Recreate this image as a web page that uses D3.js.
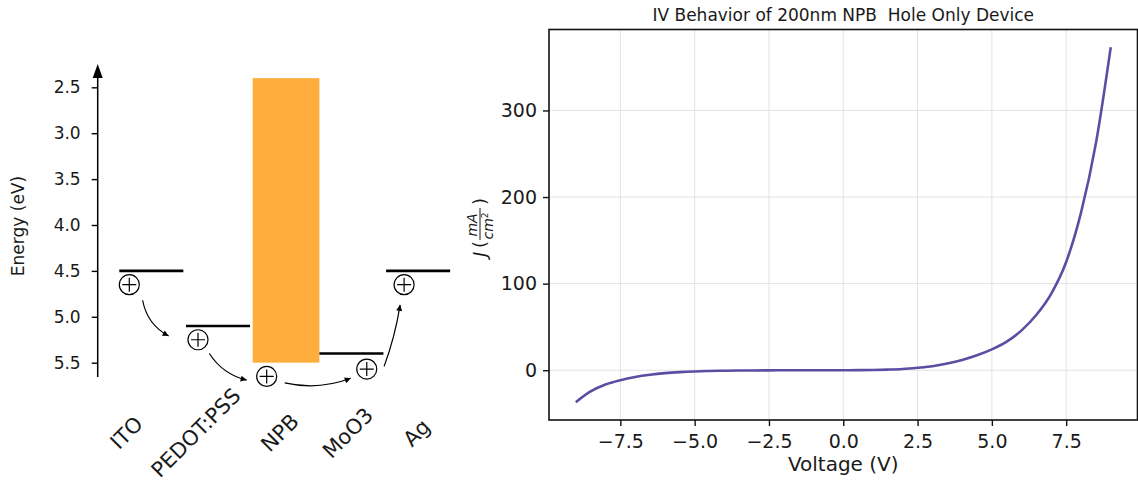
<!DOCTYPE html>
<html>
<head>
<meta charset="utf-8">
<script src="https://cdn.jsdelivr.net/npm/d3@7"></script>
<style>
  body { margin: 0; background: #fff; }
  text { font-family: "DejaVu Sans", sans-serif; fill: #1a1a1a; }
</style>
</head>
<body>
<svg id="chart" width="1138" height="481"></svg>
<script>
// ---------- energy diagram data
const layerNames = ["ITO", "PEDOT:PSS", "NPB", "MoO3", "Ag"];
const labelX = [0.11, 1.15, 2.41, 3.43, 4.46];
const levelPos = [0, 1, 3, 4];          // ITO, PEDOT:PSS, MoO3, Ag
const levelE = [4.5, 5.1, 5.4, 4.5];
const bandPos = 2;                      // NPB
const bandLumo = 2.4, bandHomo = 5.5;
const energyTicks = [2.5, 3.0, 3.5, 4.0, 4.5, 5.0, 5.5];
const holeX = [0.15, 1.18, 2.21, 3.71, 4.27];
const holeE = [4.65, 5.25, 5.65, 5.57, 4.65];
const arrowFrom = [[0.35, 4.82], [1.35, 5.40], [2.48, 5.72], [3.97, 5.54]];
const arrowTo = [[0.74, 5.21], [1.91, 5.69], [3.47, 5.67], [4.21, 4.87]];
const arrowBend = [0.24, 0.2, 0.15, 0.05];

// ---------- IV curve data
const voltage = [-9, -8.5, -8, -7.5, -7, -6.5, -6, -5.5, -5, -4.5, -4, -3.5, -3, -2.5, -2, -1.5, -1, -0.5,
  0, 0.5, 1, 1.5, 2, 2.5, 3, 3.5, 4, 4.5, 5, 5.5, 6, 6.5, 7, 7.5, 8, 8.5, 9];
const current = [-37, -24.5, -16.5, -11.5, -7.8, -5.2, -3.4, -2.2, -1.4, -0.9, -0.6, -0.4, -0.25, -0.15, -0.08, -0.04, -0.02, -0.01,
  0, 0.1, 0.3, 0.7, 1.4, 2.8, 4.6, 7.7, 11.8, 17.2, 24, 33, 46, 64, 88.5, 125, 182, 262, 373];
const voltTicks = [-7.5, -5.0, -2.5, 0.0, 2.5, 5.0, 7.5];
const currTicks = [0, 100, 200, 300];

const svg = d3.select("#chart");

svg.append("defs").append("marker")
  .attr("id", "head")
  .attr("viewBox", "0 0 10 10")
  .attr("refX", 10).attr("refY", 5)
  .attr("markerWidth", 8).attr("markerHeight", 6)
  .attr("markerUnits", "userSpaceOnUse")
  .attr("orient", "auto")
  .append("path").attr("d", "M0,0 L10,5 L0,10 z").attr("fill", "#000");

// ================= left: energy levels
const xL = d3.scaleLinear().domain([0, 5]).range([119.3, 452.8]);
const yE = d3.scaleLinear().domain([2.246, 5.656]).range([64, 377]);
const left = svg.append("g");

// axis ticks
left.append("g")
  .attr("transform", "translate(97.7,0)")
  .style("font-size", "17px")
  .call(d3.axisLeft(yE).tickValues(energyTicks).tickFormat(d3.format(".1f")).tickSize(6).tickPadding(11))
  .call(g => g.select(".domain").remove())
  .call(g => g.selectAll("line").attr("stroke", "#000").attr("stroke-width", 1.4))
  .call(g => g.selectAll("text").attr("fill", "#1a1a1a"));

// spine with arrow head
const yTop = yE(yE.domain()[0]);
left.append("line")
  .attr("x1", 97.7).attr("x2", 97.7)
  .attr("y1", yE(yE.domain()[1])).attr("y2", yTop + 8)
  .attr("stroke", "#000").attr("stroke-width", 1.5);
left.append("path")
  .attr("d", `M97.7,${yTop} L92.7,${yTop + 14} L102.7,${yTop + 14} Z`)
  .attr("fill", "#000");

left.append("text")
  .attr("transform", "translate(24,226) rotate(-90)")
  .attr("text-anchor", "middle")
  .style("font-size", "17px")
  .text("Energy (eV)");

// NPB band
left.append("rect")
  .attr("x", xL(bandPos)).attr("width", xL(bandPos + 1) - xL(bandPos))
  .attr("y", yE(bandLumo)).attr("height", yE(bandHomo) - yE(bandLumo))
  .attr("fill", "#ffad3d");

// electrode / layer levels
left.selectAll(".level")
  .data(levelPos)
  .join("line")
  .attr("class", "level")
  .attr("x1", d => xL(d)).attr("x2", d => xL(d + 0.96))
  .attr("y1", (d, i) => yE(levelE[i])).attr("y2", (d, i) => yE(levelE[i]))
  .attr("stroke", "#000").attr("stroke-width", 2.6);

// holes
const holes = left.selectAll(".hole")
  .data(holeX)
  .join("g")
  .attr("class", "hole")
  .attr("transform", (d, i) => `translate(${xL(d)},${yE(holeE[i])})`);
holes.append("circle").attr("r", 10).attr("fill", "#fff").attr("stroke", "#000").attr("stroke-width", 1.2);
holes.append("path").attr("d", "M-7,0 H7 M0,-7 V7").attr("stroke", "#000").attr("stroke-width", 1.2);

// hopping arrows
left.selectAll(".hop")
  .data(arrowFrom)
  .join("path")
  .attr("class", "hop")
  .attr("d", (d, i) => {
    const x0 = xL(d[0]), y0 = yE(d[1]);
    const x1 = xL(arrowTo[i][0]), y1 = yE(arrowTo[i][1]);
    const dx = x1 - x0, dy = y1 - y0, r = arrowBend[i];
    const cx = (x0 + x1) / 2 - r * dy, cy = (y0 + y1) / 2 + r * dx;
    return `M${x0},${y0} Q${cx},${cy} ${x1},${y1}`;
  })
  .attr("fill", "none").attr("stroke", "#000").attr("stroke-width", 1.2)
  .attr("marker-end", "url(#head)");

// layer names
left.selectAll(".lname")
  .data(layerNames)
  .join("text")
  .attr("class", "lname")
  .attr("transform", (d, i) => `translate(${xL(labelX[i])},433) rotate(-45)`)
  .attr("text-anchor", "middle")
  .attr("dominant-baseline", "central")
  .style("font-size", "21px")
  .text(d => d);

// ================= right: IV curve
const pad = (d3.max(current) - d3.min(current)) * 0.05;
const xV = d3.scaleLinear().domain([-9.9, 9.9]).range([549, 1137.5]);
const yJ = d3.scaleLinear().domain([d3.min(current) - pad, d3.max(current) + pad]).range([420, 29.5]);
const right = svg.append("g");

// grid
right.append("g")
  .selectAll("line.gx").data(voltTicks).join("line")
  .attr("x1", d => xV(d)).attr("x2", d => xV(d))
  .attr("y1", yJ.range()[0]).attr("y2", yJ.range()[1])
  .attr("stroke", "#e3e3e3").attr("stroke-width", 1);
right.append("g")
  .selectAll("line.gy").data(currTicks).join("line")
  .attr("x1", xV.range()[0]).attr("x2", xV.range()[1])
  .attr("y1", d => yJ(d)).attr("y2", d => yJ(d))
  .attr("stroke", "#e3e3e3").attr("stroke-width", 1);

// curve
right.append("path")
  .datum(voltage.map((v, i) => [v, current[i]]))
  .attr("fill", "none")
  .attr("stroke", "#5b4ea2")
  .attr("stroke-width", 2.6)
  .attr("d", d3.line().curve(d3.curveMonotoneX).x(d => xV(d[0])).y(d => yJ(d[1])));

// frame
right.append("rect")
  .attr("x", xV.range()[0]).attr("y", yJ.range()[1])
  .attr("width", xV.range()[1] - xV.range()[0]).attr("height", yJ.range()[0] - yJ.range()[1])
  .attr("fill", "none").attr("stroke", "#111").attr("stroke-width", 1.6);

right.append("g")
  .attr("transform", `translate(0,${yJ.range()[0]})`)
  .style("font-size", "19px")
  .call(d3.axisBottom(xV).tickValues(voltTicks).tickFormat(d3.format(".1f")).tickSize(6).tickPadding(9))
  .call(g => g.select(".domain").remove())
  .call(g => g.selectAll("line").attr("stroke", "#111").attr("stroke-width", 1.4))
  .call(g => g.selectAll("text").attr("fill", "#1a1a1a"));

right.append("g")
  .attr("transform", `translate(${xV.range()[0]},0)`)
  .style("font-size", "19px")
  .call(d3.axisLeft(yJ).tickValues(currTicks).tickSize(6).tickPadding(6))
  .call(g => g.select(".domain").remove())
  .call(g => g.selectAll("line").attr("stroke", "#111").attr("stroke-width", 1.4))
  .call(g => g.selectAll("text").attr("fill", "#1a1a1a"));

right.append("text")
  .attr("x", (xV.range()[0] + xV.range()[1]) / 2).attr("y", 21)
  .attr("text-anchor", "middle")
  .style("font-size", "17px")
  .text("IV Behavior of 200nm NPB  Hole Only Device")
  .attr("xml:space", "preserve");

right.append("text")
  .attr("x", (xV.range()[0] + xV.range()[1]) / 2).attr("y", 471)
  .attr("text-anchor", "middle")
  .style("font-size", "20px")
  .text("Voltage (V)");

// y label J(mA/cm^2)
const yl = right.append("g").attr("transform", "translate(486,224) rotate(-90)");
yl.append("text").attr("x", -33).attr("y", 0).style("font-size", "18px").style("font-style", "italic").text("J");
yl.append("text").attr("x", -24).attr("y", 0).style("font-size", "18px").text("(");
yl.append("line").attr("x1", -16).attr("x2", 16).attr("y1", -6).attr("y2", -6).attr("stroke", "#1a1a1a").attr("stroke-width", 1);
yl.append("text").attr("x", -1).attr("y", -9).attr("text-anchor", "middle").style("font-size", "14px").style("font-style", "italic").text("mA");
const den = yl.append("text").attr("x", -2).attr("y", 7).attr("text-anchor", "middle").style("font-size", "14px").style("font-style", "italic");
den.append("tspan").text("cm");
den.append("tspan").attr("dy", -5).style("font-size", "9px").style("font-style", "normal").text("2");
yl.append("text").attr("x", 19).attr("y", 0).style("font-size", "18px").text(")");
</script>
</body>
</html>
